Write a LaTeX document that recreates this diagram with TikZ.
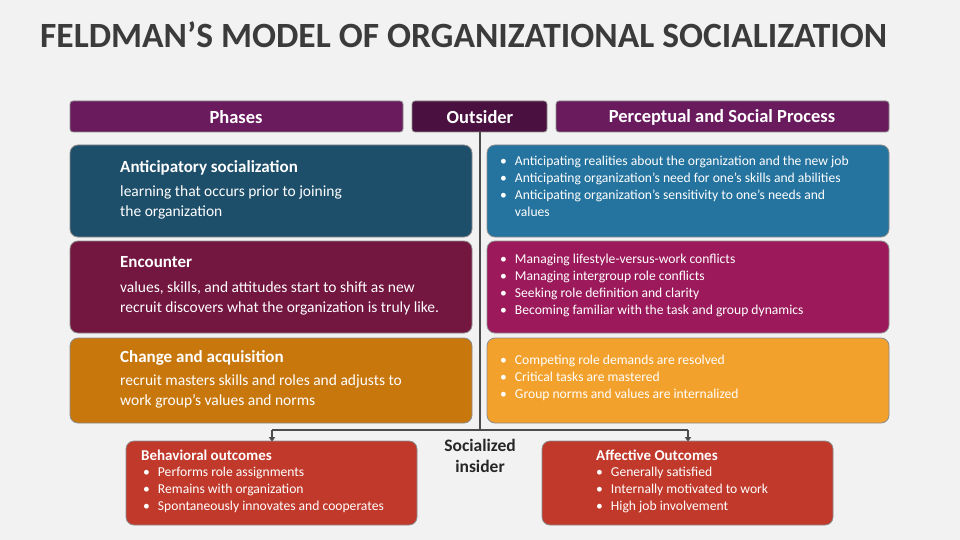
\documentclass[tikz,border=0pt]{standalone}
\usepackage{fontspec}
\setmainfont{Carlito}
\usetikzlibrary{positioning,arrows.meta}
\definecolor{bgc}{HTML}{F2F2F2}
\definecolor{titlec}{HTML}{3B3B3B}
\definecolor{headc}{HTML}{6A1B5E}
\definecolor{outc}{HTML}{4A1040}
\definecolor{antL}{HTML}{1D4E6A}
\definecolor{antR}{HTML}{25739F}
\definecolor{encL}{HTML}{731640}
\definecolor{encR}{HTML}{9C1A5B}
\definecolor{chgL}{HTML}{C8770D}
\definecolor{chgR}{HTML}{F2A12C}
\definecolor{outcm}{HTML}{C0392B}
\tikzset{
  panel/.style={rounded corners=8pt, draw=black!45, line width=0.8pt},
  headbox/.style={panel, fill=headc, rounded corners=3pt},
  hlab/.style={text=white, font=\bfseries\fontsize{18.5}{22}\selectfont},
  ttl/.style={anchor=north west, text=white, font=\bfseries\fontsize{17}{20}\selectfont, inner sep=0pt},
  txt/.style={anchor=north west, text=white, font=\fontsize{15.5}{19.5}\selectfont, align=left, inner sep=0pt},
  blist/.style={anchor=north west, text=white, font=\fontsize{13.6}{17}\selectfont, align=left, inner sep=0pt},
  link/.style={draw=black!70, line width=1.2pt},
}
\newcommand{\bl}{\textbullet\hspace{8pt}}
\begin{document}
\begin{tikzpicture}[x=1pt,y=-1pt]
\fill[bgc] (0,0) rectangle (960,540);
\node[anchor=west, text=titlec, font=\bfseries\fontsize{35.5}{40}\selectfont, inner sep=0pt] (title) at (40,35) {FELDMAN’S MODEL OF ORGANIZATIONAL SOCIALIZATION};

% headers
\draw[headbox] (70,101) rectangle (403,132);
\node[hlab] (hphase) at (236,117) {Phases};
\draw[headbox, fill=outc] (412,101) rectangle (547,132);
\node[hlab] (hout) at (480,117) {Outsider};
\draw[headbox] (556,101) rectangle (889,132);
\node[hlab] (hproc) at (722,117) {Perceptual and Social Process};

% connector
\coordinate (hub) at (480,430);
\coordinate (lt) at (272,430);
\coordinate (rt) at (688,430);
\draw[link] (480,132) -- (hub);
\draw[link] (lt) -- (rt);
\draw[link, -{Triangle[length=5pt,width=6pt]}] (lt) -- (272,442);
\draw[link, -{Triangle[length=5pt,width=6pt]}] (rt) -- (688,442);

% phases
\draw[panel, fill=antL] (70,145) rectangle (472,237);
\node[ttl] (ant) at (120,160) {Anticipatory socialization};
\node[txt] (antx) at (120,186) {learning that occurs prior to joining\\the organization};
\draw[panel, fill=antR] (487,145) rectangle (889,237);
\node[blist] (antb) at (500,156) {\bl Anticipating realities about the organization and the new job\\\bl Anticipating organization’s need for one’s skills and abilities\\\bl Anticipating organization’s sensitivity to one’s needs and\\\phantom{\bl}values};

\draw[panel, fill=encL] (70,241) rectangle (472,333);
\node[ttl] (enc) at (120,256) {Encounter};
\node[txt] (encx) at (120,282) {values, skills, and attitudes start to shift as new\\recruit discovers what the organization is truly like.};
\draw[panel, fill=encR] (487,241) rectangle (889,333);
\node[blist] (encb) at (500,254) {\bl Managing lifestyle-versus-work conflicts\\\bl Managing intergroup role conflicts\\\bl Seeking role definition and clarity\\\bl Becoming familiar with the task and group dynamics};

\draw[panel, fill=chgL] (70,338) rectangle (472,423);
\node[ttl] (chg) at (120,350) {Change and acquisition};
\node[txt] (chgx) at (120,375) {recruit masters skills and roles and adjusts to\\work group’s values and norms};
\draw[panel, fill=chgR] (487,338) rectangle (889,423);
\node[blist] (chgb) at (500,355) {\bl Competing role demands are resolved\\\bl Critical tasks are mastered\\\bl Group norms and values are internalized};

% outcomes
\node[font=\bfseries\fontsize{17.5}{21}\selectfont, text=black!85, align=center] (ins) at (480,456) {Socialized\\insider};
\draw[panel, fill=outcm] (126,441) rectangle (417,525);
\node[ttl, font=\bfseries\fontsize{15}{18}\selectfont] (beh) at (141,450) {Behavioral outcomes};
\node[blist] (behb) at (143,467) {\bl Performs role assignments\\\bl Remains with organization\\\bl Spontaneously innovates and cooperates};
\draw[panel, fill=outcm] (542,441) rectangle (833,525);
\node[ttl, font=\bfseries\fontsize{15}{18}\selectfont] (aff) at (596,450) {Affective Outcomes};
\node[blist] (affb) at (596,467) {\bl Generally satisfied\\\bl Internally motivated to work\\\bl High job involvement};
\end{tikzpicture}
\end{document}
